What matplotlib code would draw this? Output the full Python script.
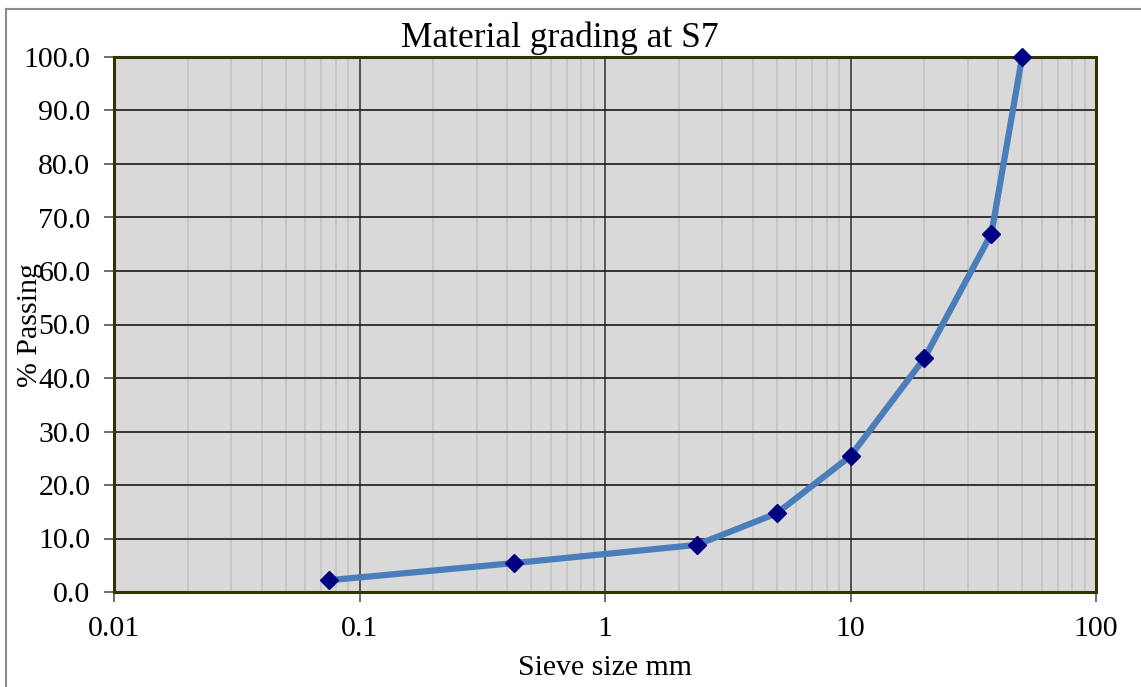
import matplotlib
matplotlib.use("Agg")
import matplotlib.pyplot as plt
from matplotlib.lines import Line2D
from matplotlib.ticker import FixedLocator, NullFormatter, FuncFormatter

# Sieve sizes (mm) and cumulative percent passing
sieve_mm = [0.075, 0.425, 2.36, 5.0, 10.0, 20.0, 37.5, 50.0]
passing = [2.2, 5.4, 8.8, 14.7, 25.4, 43.7, 67.0, 100.0]

x_ticks = [0.01, 0.1, 1, 10, 100]
x_tick_labels = ["0.01", "0.1", "1", "10", "100"]
y_ticks = [0, 10, 20, 30, 40, 50, 60, 70, 80, 90, 100]

plt.rcParams['font.family'] = ['Liberation Serif', 'DejaVu Serif']

W, H = 1141, 687
fig = plt.figure(figsize=(W / 100, H / 100), dpi=100)
ax = fig.add_axes([114 / W, 1 - 592 / H, (1096 - 114) / W, (592 - 57) / H])
ax.set_facecolor('#d9d9d9')

ax.set_xscale('log')
ax.set_xlim(0.01, 100)
ax.set_ylim(0, 100)

# minor vertical grid lines (light)
minor = [m * 10.0 ** e for e in range(-2, 2) for m in range(2, 10)]
for xv in minor:
    ax.axvline(xv, color='#c4c4c4', lw=1.2, zorder=1)
# decade lines
for xv in [0.1, 1, 10]:
    ax.axvline(xv, color='#3a3a3a', lw=1.2, zorder=1.2)
# horizontal grid
for yv in y_ticks[1:-1]:
    ax.axhline(yv, color='#1a1a1a', lw=1.2, zorder=1.3)

ax.plot(sieve_mm, passing, color='#4a7ebb', lw=4.5, zorder=3,
        solid_joinstyle='miter', clip_on=False)
ax.plot(sieve_mm, passing, linestyle='none', marker='D', ms=9,
        color='#000080', zorder=6, clip_on=False)

ax.xaxis.set_major_locator(FixedLocator(x_ticks))
ax.xaxis.set_minor_locator(FixedLocator([]))
ax.xaxis.set_minor_formatter(NullFormatter())
ax.set_xticks(x_ticks)
ax.set_xticklabels(x_tick_labels)
ax.set_yticks(y_ticks)
ax.yaxis.set_major_formatter(FuncFormatter(lambda v, p: f"{v:.1f}"))

ax.tick_params(axis='both', direction='out', length=7, width=1.2,
               color='#555555', labelsize=21.5)
ax.tick_params(axis='x', pad=10)
ax.tick_params(axis='y', pad=10)

for sp in ax.spines.values():
    sp.set_color('#333300')
    sp.set_linewidth(2.2)
    sp.set_zorder(5)

fig.text(560 / W, 1 - 38 / H, "Material grading at S7", ha='center',
         va='center', fontsize=25.5)
fig.text(605 / W, 1 - 668 / H, "Sieve size mm", ha='center', va='center',
         fontsize=21.5)
fig.text(30 / W, 1 - 325 / H, "% Passing", ha='center', va='center',
         rotation=90, fontsize=21.5)

# outer chart frame
fig.add_artist(Line2D([6 / W, 6 / W], [0, 1 - 9 / H], transform=fig.transFigure,
                      color='#8c8c8c', lw=1.5))
fig.add_artist(Line2D([6 / W, 1], [1 - 9 / H, 1 - 9 / H], transform=fig.transFigure,
                      color='#8c8c8c', lw=1.5))

fig.savefig("out.png", dpi=100)
